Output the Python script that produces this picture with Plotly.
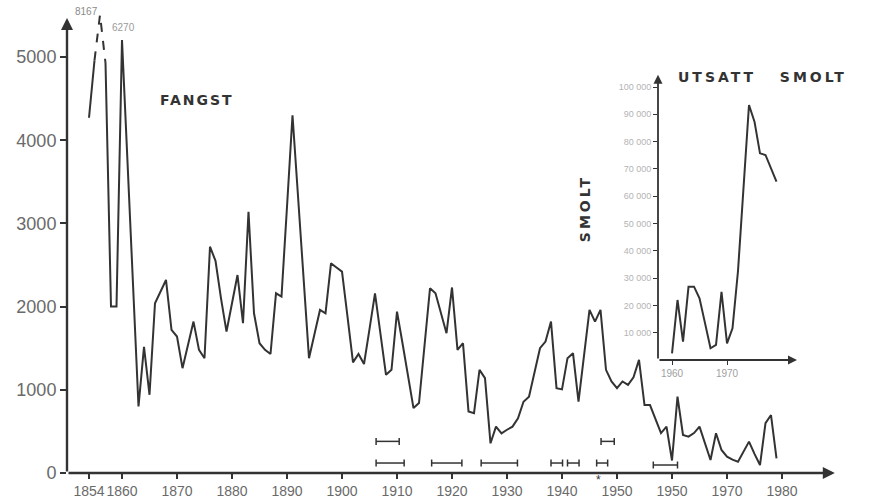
import plotly.graph_objects as go

# ---------------- data ----------------
years = list(range(1854, 1980))
catch = [4270, 4960, 8167, 4930, 2000, 2000, 6270, 3740, 2270, 800,
         1515, 940, 2040, 2180, 2320, 1720, 1640, 1260, 1540, 1820,
         1480, 1380, 2720, 2550, 2100, 1700, 2040, 2380, 1800, 3140,
         1920, 1560, 1480, 1430, 2160, 2120, 3200, 4300, 3330, 2350,
         1380, 1670, 1960, 1920, 2520, 2470, 2420, 1880, 1330, 1430,
         1310, 1730, 2160, 1670, 1180, 1240, 1940, 1560, 1170, 780,
         840, 1530, 2220, 2160, 1920, 1680, 2230, 1480, 1560, 740,
         720, 1240, 1140, 357, 557, 477, 520, 557, 657, 857,
         917, 1200, 1500, 1580, 1820, 1020, 1005, 1380, 1440, 857,
         1400, 1960, 1820, 1960, 1240, 1100, 1020, 1100, 1060, 1150,
         1360, 817, 817, 650, 480, 557, 150, 917, 457, 437,
         480, 557, 350, 157, 477, 277, 196, 160, 136, 250,
         377, 230, 96, 600, 697, 177]

y_ticks = [0, 1000, 2000, 3000, 4000, 5000]
x_tickvals = [1854, 1860, 1870, 1880, 1890, 1900, 1910, 1920, 1930, 1940, 1950, 1960, 1970, 1980]
x_ticktext = ["1854", "1860", "1870", "1880", "1890", "1900", "1910", "1920", "1930", "1940",
              "1950", "1950", "1970", "1980"]

# periods marked under the curve (start, end, level)
period_start = [1906.2, 1916.3, 1925.3, 1938.0, 1941.0, 1946.3, 1956.6, 1906.2, 1947.1]
period_end = [1911.3, 1921.8, 1931.9, 1940.1, 1943.1, 1948.3, 1961.0, 1910.4, 1949.5]
period_level = [120, 120, 120, 120, 120, 120, 96, 380, 380]

smolt_years = list(range(1960, 1980))
smolt = [2450, 21980, 6700, 26850, 26850, 22600, 13500, 4300, 5500, 25000,
         6100, 11600, 32600, 62300, 93400, 87300, 75700, 75100, 70300, 65300]
smolt_ticks = [10000, 20000, 30000, 40000, 50000, 60000, 70000, 80000, 90000, 100000]
smolt_ticktext = ["10 000", "20 000", "30 000", "40 000", "50 000",
                  "60 000", "70 000", "80 000", "90 000", "100 000"]

# ---------------- scale break for out-of-range peaks ----------------
BREAK = 5000
K = 0.16
drawn = [v if v <= BREAK else BREAK + (v - BREAK) * K for v in catch]

i_peak = years.index(1856)
i_peak2 = years.index(1860)
solid_x = years[:i_peak] + [None] + years[i_peak + 1:]
solid_y = drawn[:i_peak] + [None] + drawn[i_peak + 1:]
dash_x = years[i_peak - 1:i_peak + 2]
dash_y = drawn[i_peak - 1:i_peak + 2]

INK = "#333333"
LABEL = "#6a6a6a"
NARROW = "Liberation Sans, Arial, sans-serif"
BOLD = "DejaVu Sans, Verdana, sans-serif"

fig = go.Figure()
fig.add_trace(go.Scatter(x=solid_x, y=solid_y, mode="lines",
                         line=dict(color=INK, width=2), hoverinfo="skip"))
fig.add_trace(go.Scatter(x=dash_x, y=dash_y, mode="lines",
                         line=dict(color=INK, width=2, dash="dash"), hoverinfo="skip"))

px, py = [], []
for s, e, l in zip(period_start, period_end, period_level):
    px += [s, e, None]
    py += [l, l, None]
fig.add_trace(go.Scatter(x=px, y=py, mode="lines+markers",
                         line=dict(color=INK, width=1.5),
                         marker=dict(symbol="line-ns", size=5, line=dict(color=INK, width=1.5)),
                         hoverinfo="skip"))

fig.add_trace(go.Scatter(x=smolt_years, y=smolt, mode="lines", xaxis="x2", yaxis="y2",
                         line=dict(color=INK, width=2), hoverinfo="skip"))

X0, X1 = 1850, 1990
Y1 = 5565
fig.update_layout(
    width=876, height=503,
    margin=dict(l=67, r=39, t=10, b=30),
    paper_bgcolor="white", plot_bgcolor="white",
    showlegend=False,
    xaxis=dict(range=[X0, X1], showgrid=False, zeroline=False, showline=False,
               automargin=False, tickangle=0,
               tickmode="array", tickvals=x_tickvals, ticktext=x_ticktext,
               ticks="outside", ticklen=5, tickwidth=1.5, tickcolor=INK,
               tickfont=dict(family=NARROW, size=14, color=LABEL)),
    yaxis=dict(range=[0, Y1], showgrid=False, zeroline=False, showline=False,
               automargin=False,
               tickmode="array", tickvals=y_ticks,
               ticks="outside", ticklen=6, tickwidth=1.5, tickcolor=INK,
               tickfont=dict(family=NARROW, size=18, color=LABEL)),
    xaxis2=dict(domain=[0.76753, 0.94805], range=[1957.45, 1982.73], anchor="y2",
                showgrid=False, zeroline=False, showline=False, automargin=False, tickangle=0,
                tickmode="array", tickvals=[1960, 1970], ticktext=["1960", "1970"],
                ticks="outside", ticklen=4, tickwidth=1, tickcolor=INK,
                tickfont=dict(family=NARROW, size=10, color="#a0a0a0")),
    yaxis2=dict(domain=[0.2441, 0.8747], range=[0, 106960], anchor="x2",
                showgrid=False, zeroline=False, showline=False, automargin=False,
                tickmode="array", tickvals=smolt_ticks, ticktext=smolt_ticktext,
                ticks="outside", ticklen=4, tickwidth=1, tickcolor=INK,
                tickfont=dict(family=NARROW, size=9, color="#b4b4b4")),
)

arrow = dict(text="", showarrow=True, arrowhead=2, arrowsize=1, arrowcolor=INK)
spaced = '<span style="letter-spacing:{}px"><b>{}</b></span>'
anns = [
    dict(x=X0, y=5469, ax=X0, ay=0, xref="x", yref="y", axref="x", ayref="y", arrowwidth=2.4, **arrow),
    dict(x=1989.6, y=0, ax=X0, ay=0, xref="x", yref="y", axref="x", ayref="y", arrowwidth=2.4, **arrow),
    dict(x=1957.45, y=104500, ax=1957.45, ay=0, xref="x2", yref="y2", axref="x2", ayref="y2",
         arrowwidth=1.8, **arrow),
    dict(x=1982.73, y=0, ax=1957.45, ay=0, xref="x2", yref="y2", axref="x2", ayref="y2",
         arrowwidth=1.8, **arrow),
    dict(x=years[i_peak], y=drawn[i_peak], xref="x", yref="y", text=str(catch[i_peak]),
         showarrow=False, xanchor="right", yanchor="middle", xshift=0, yshift=3,
         font=dict(family=NARROW, size=10, color="#8a8a8a")),
    dict(x=years[i_peak2], y=drawn[i_peak2], xref="x", yref="y", text=str(catch[i_peak2]),
         showarrow=False, xanchor="left", yanchor="middle", xshift=-12, yshift=13,
         font=dict(family=NARROW, size=10, color="#9a9a9a")),
    dict(x=0.169, y=0.806, xref="paper", yref="paper", text=spaced.format(2, "FANGST"),
         showarrow=False, xanchor="center", yanchor="middle",
         font=dict(family=BOLD, size=14, color=INK)),
    dict(x=0.9026, y=0.855, xref="paper", yref="paper", text=spaced.format(3, "UTSATT   SMOLT"),
         showarrow=False, xanchor="center", yanchor="middle",
         font=dict(family=BOLD, size=14, color=INK)),
    dict(x=0.6727, y=0.572, xref="paper", yref="paper", text=spaced.format(3, "SMOLT"),
         showarrow=False, xanchor="center", yanchor="middle",
         textangle=-90, font=dict(family=BOLD, size=14, color=INK)),
    dict(x=1946.6, y=-0.034, xref="x", yref="paper", text="*", showarrow=False,
         font=dict(family=NARROW, size=12, color=INK)),
]
fig.update_layout(annotations=anns)

fig.write_html("out.html", config={"displayModeBar": False},
               post_script="document.body.style.margin='0';")
